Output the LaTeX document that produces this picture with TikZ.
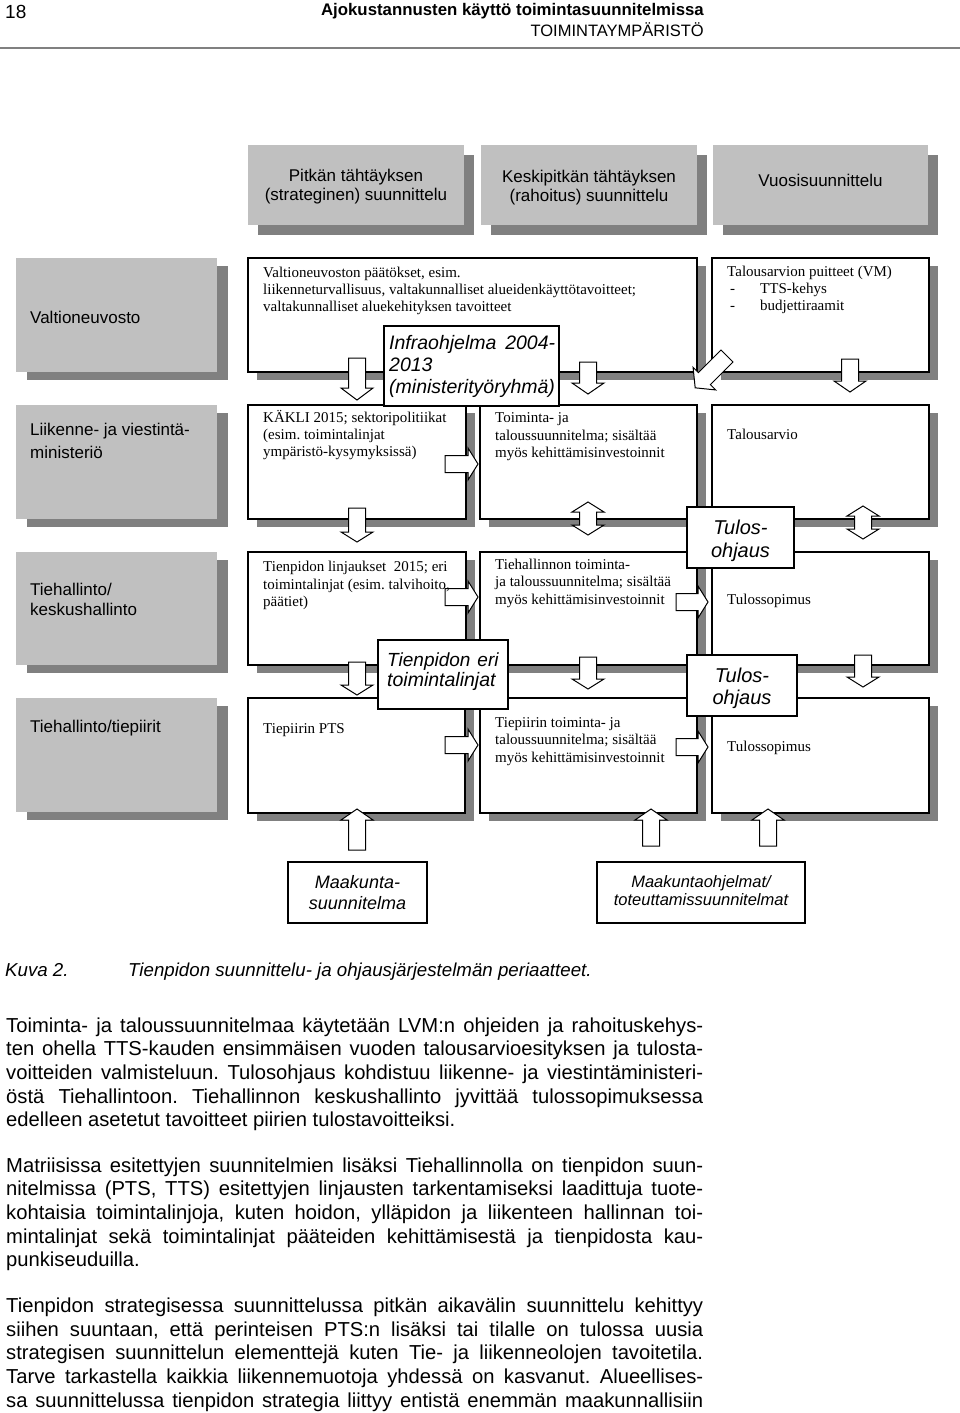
\documentclass[tikz,border=0pt]{standalone}
\usepackage{fontspec}
\setmainfont{Liberation Serif}
\setsansfont{Liberation Sans}
\usetikzlibrary{shadows}
\definecolor{lg}{HTML}{C0C0C0}
\definecolor{dg}{HTML}{808080}
\frenchspacing
\newcommand{\fs}[2]{\fontsize{#1}{#2}\selectfont}
\newcommand{\bodyf}{\sffamily\fs{20.2}{24}\frenchspacing}
\newcommand{\boxf}{\rmfamily\fs{15}{17}}
\newcommand{\grayf}{\sffamily\fs{17}{20}}
\newcounter{txc}
\newcommand{\txl}[4]{\stepcounter{txc}\node[anchor=base west, inner sep=0pt, font=#3] (t\arabic{txc}) at (#1,#2) {#4};}
\newcommand{\txm}[4]{\stepcounter{txc}\node[anchor=base, inner sep=0pt, font=#3] (t\arabic{txc}) at (#1,#2) {#4};}
\newcommand{\txr}[4]{\stepcounter{txc}\node[anchor=base east, inner sep=0pt, font=#3] (t\arabic{txc}) at (#1,#2) {#4};}
\newcommand{\jl}[2]{\stepcounter{txc}\node[anchor=base west, inner sep=0pt, font=\bodyf] (t\arabic{txc}) at (6,#1) {\makebox[697pt][s]{#2}};}
\newcommand{\barr}[5]{\begin{scope}[shift={(#1,#2)},rotate=#3]
\draw[arr] (0,-8.5) -- ({#4-#5},-8.5) -- ({#4-#5},-16) -- (#4,0) -- ({#4-#5},16) -- ({#4-#5},8.5) -- (0,8.5) -- cycle;
\end{scope}}
\newcommand{\darr}[5]{\begin{scope}[shift={(#1,#2)},rotate=#3]
\draw[arr] (0,0) -- (#5,-16) -- (#5,-8.5) -- ({#4-#5},-8.5) -- ({#4-#5},-16) -- (#4,0) -- ({#4-#5},16) -- ({#4-#5},8.5) -- (#5,8.5) -- (#5,16) -- cycle;
\end{scope}}
\begin{document}
\begin{tikzpicture}[x=1pt,y=-1pt,
  gbox/.style={fill=lg, draw=none, inner sep=0pt, outer sep=0pt, anchor=north west, drop shadow={shadow xshift=11pt, shadow yshift=-8pt, fill=dg, opacity=1}},
  hbox/.style={fill=lg, draw=none, inner sep=0pt, outer sep=0pt, anchor=north west, drop shadow={shadow xshift=10pt, shadow yshift=-10pt, fill=dg, opacity=1}},
  wbox/.style={fill=white, draw=black, line width=1.1pt, inner sep=0pt, outer sep=0pt, anchor=north west, drop shadow={shadow xshift=9pt, shadow yshift=-8pt, fill=dg, opacity=1}},
  obox/.style={fill=white, draw=black, line width=1.1pt, inner sep=0pt, outer sep=0pt, anchor=north west},
  arr/.style={draw=black, fill=white, line width=1pt, line join=miter},
]
\useasboundingbox[fill=white] (0,0) rectangle (960,1413);

% page header
\txl{5}{19}{\sffamily\fs{19}{22}}{18}
\txr{704}{16}{\sffamily\bfseries\fs{16.8}{19}}{Ajokustannusten käyttö toimintasuunnitelmissa}
\txr{704}{37}{\sffamily\fs{16.5}{19}}{TOIMINTAYMPÄRISTÖ}
\coordinate (rl) at (0,48);
\coordinate (rr) at (960,48);
\draw[dg, line width=1.5pt] (rl) -- (rr);

% column headers
\node[hbox, minimum width=216pt, minimum height=80pt] (h1) at (248,145) {};
\node[hbox, minimum width=216pt, minimum height=80pt] (h2) at (481,145) {};
\node[hbox, minimum width=215pt, minimum height=80pt] (h3) at (713,145) {};

% row headers
\node[gbox, minimum width=201pt, minimum height=114pt] (r1) at (16,258) {};
\node[gbox, minimum width=201pt, minimum height=114pt] (r2) at (16,405) {};
\node[gbox, minimum width=201pt, minimum height=113pt] (r3) at (16,552) {};
\node[gbox, minimum width=201pt, minimum height=114pt] (r4) at (16,698) {};

% matrix cells
\node[wbox, minimum width=449pt, minimum height=114pt] (vnp) at (248,258) {};
\node[wbox, minimum width=217pt, minimum height=114pt] (tap) at (712,258) {};
\node[wbox, minimum width=218pt, minimum height=114pt] (kakli) at (248,405) {};
\node[wbox, minimum width=217pt, minimum height=114pt] (tts) at (480,405) {};
\node[wbox, minimum width=217pt, minimum height=114pt] (ta) at (712,405) {};
\node[wbox, minimum width=218pt, minimum height=113pt] (tlin) at (248,552) {};
\node[wbox, minimum width=217pt, minimum height=113pt] (thts) at (480,552) {};
\node[wbox, minimum width=217pt, minimum height=113pt] (ts1) at (712,552) {};
\node[wbox, minimum width=217pt, minimum height=115pt] (pts) at (248,698) {};
\node[wbox, minimum width=217pt, minimum height=115pt] (tpts) at (480,698) {};
\node[wbox, minimum width=217pt, minimum height=115pt] (ts2) at (712,698) {};

% overlay boxes
\node[obox, minimum width=175pt, minimum height=80pt] (infra) at (384,326) {};
\node[obox, minimum width=107pt, minimum height=61pt] (to1) at (687,507) {};
\node[obox, minimum width=130pt, minimum height=69pt] (eri) at (378,640) {};
\node[obox, minimum width=110pt, minimum height=61pt] (to2) at (687,655) {};
\node[obox, minimum width=139pt, minimum height=61pt] (mks) at (288,862) {};
\node[obox, minimum width=208pt, minimum height=61pt] (mko) at (597,862) {};

% block arrows
\barr{357}{358}{-90}{42}{12}
\barr{588}{362}{-90}{32}{11}
\barr{850}{359}{-90}{33}{11}
\barr{727}{356}{-135}{45}{13}
\barr{357}{508}{-90}{34}{10}
\barr{357}{662}{-90}{33}{10}
\barr{588}{657}{-90}{32}{10}
\barr{863}{655}{-90}{32}{10}
\darr{588}{502}{-90}{33}{10}
\darr{863}{506}{-90}{33}{10}
\barr{445}{464}{0}{33}{10}
\barr{445}{597}{0}{33}{10}
\barr{445}{745}{0}{33}{10}
\barr{676}{602}{0}{32}{10}
\barr{676}{747}{0}{32}{10}
\barr{357}{850}{90}{41}{11}
\barr{651}{846}{90}{37}{11}
\barr{768}{846}{90}{37}{11}

% header texts
\txm{356}{181.5}{\grayf}{Pitkän tähtäyksen}
\txm{356}{200.5}{\grayf}{(strateginen) suunnittelu}
\txm{589}{182.5}{\grayf}{Keskipitkän tähtäyksen}
\txm{589}{201.5}{\grayf}{(rahoitus) suunnittelu}
\txm{820.5}{186.5}{\grayf}{Vuosisuunnittelu}

% row header texts
\txl{30}{323.5}{\grayf}{Valtioneuvosto}
\txl{30}{435.5}{\grayf}{Liikenne- ja viestintä-}
\txl{30}{458}{\grayf}{ministeriö}
\txl{30}{595.5}{\grayf}{Tiehallinto/}
\txl{30}{615.5}{\grayf}{keskushallinto}
\txl{30}{732.5}{\grayf}{Tiehallinto/tiepiirit}

% cell texts
\txl{263}{277.5}{\boxf}{Valtioneuvoston päätökset, esim.}
\txl{263}{294.5}{\boxf}{liikenneturvallisuus, valtakunnalliset alueidenkäyttötavoitteet;}
\txl{263}{311.5}{\boxf}{valtakunnalliset aluekehityksen tavoitteet}
\txl{727}{276.5}{\boxf}{Talousarvion puitteet (VM)}
\txl{730}{293.5}{\boxf}{-}
\txl{760}{293.5}{\boxf}{TTS-kehys}
\txl{730}{310.5}{\boxf}{-}
\txl{760}{310.5}{\boxf}{budjettiraamit}
\txl{263}{422.5}{\boxf}{KÄKLI 2015; sektoripolitiikat}
\txl{263}{439.5}{\boxf}{(esim. toimintalinjat}
\txl{263}{456.5}{\boxf}{ympäristö-kysymyksissä)}
\txl{495}{422.5}{\boxf}{Toiminta- ja}
\txl{495}{440}{\boxf}{taloussuunnitelma; sisältää}
\txl{495}{457.5}{\boxf}{myös kehittämisinvestoinnit}
\txl{727}{439.5}{\boxf}{Talousarvio}
\txl{263}{571.5}{\boxf}{Tienpidon linjaukset \ 2015; eri}
\txl{263}{589}{\boxf}{toimintalinjat (esim. talvihoito,}
\txl{263}{606.5}{\boxf}{päätiet)}
\txl{495}{569.5}{\boxf}{Tiehallinnon toiminta-}
\txl{495}{586.5}{\boxf}{ja taloussuunnitelma; sisältää}
\txl{495}{604.5}{\boxf}{myös kehittämisinvestoinnit}
\txl{727}{604.5}{\boxf}{Tulossopimus}
\txl{263}{733.5}{\boxf}{Tiepiirin PTS}
\txl{495}{727.5}{\boxf}{Tiepiirin toiminta- ja}
\txl{495}{744.5}{\boxf}{taloussuunnitelma; sisältää}
\txl{495}{762.5}{\boxf}{myös kehittämisinvestoinnit}
\txl{727}{751.5}{\boxf}{Tulossopimus}

% overlay texts
\txl{389}{349.5}{\sffamily\itshape\fs{19.5}{22}}{\makebox[166pt][s]{Infraohjelma 2004-}}
\txl{389}{371.5}{\sffamily\itshape\fs{19.5}{22}}{2013}
\txl{389}{393.5}{\sffamily\itshape\fs{19.5}{22}}{(ministerityöryhmä)}
\txm{740.5}{534}{\sffamily\itshape\fs{20}{23}}{Tulos-}
\txm{740.5}{557}{\sffamily\itshape\fs{20}{23}}{ohjaus}
\txm{742}{682}{\sffamily\itshape\fs{20}{23}}{Tulos-}
\txm{742}{704}{\sffamily\itshape\fs{20}{23}}{ohjaus}
\txl{387}{666.5}{\sffamily\itshape\fs{19}{22}}{\makebox[111pt][s]{Tienpidon\ \ eri}}
\txl{387}{686.5}{\sffamily\itshape\fs{19.5}{22}}{toimintalinjat}
\txm{357.5}{888}{\sffamily\itshape\fs{18}{21}}{Maakunta-}
\txm{357.5}{909}{\sffamily\itshape\fs{18}{21}}{suunnitelma}
\txm{701}{887}{\sffamily\itshape\fs{16.5}{19}}{Maakuntaohjelmat/}
\txm{701}{905}{\sffamily\itshape\fs{16.5}{19}}{toteuttamissuunnitelmat}

% caption
\txl{5}{976.5}{\sffamily\itshape\fs{18.7}{22}}{Kuva 2.}
\txl{128}{976.5}{\sffamily\itshape\fs{18.7}{22}}{Tienpidon suunnittelu- ja ohjausjärjestelmän periaatteet.}

% body text
\jl{1032}{Toiminta- ja taloussuunnitelmaa käytetään LVM:n ohjeiden ja rahoituskehys-}
\jl{1055.7}{ten ohella TTS-kauden ensimmäisen vuoden talousarvioesityksen ja tulosta-}
\jl{1079.4}{voitteiden valmisteluun. Tulosohjaus kohdistuu liikenne- ja viestintäministeri-}
\jl{1103.1}{östä Tiehallintoon. Tiehallinnon keskushallinto jyvittää tulossopimuksessa}
\txl{6}{1126.8}{\bodyf}{edelleen asetetut tavoitteet piirien tulostavoitteiksi.}
\jl{1172}{Matriisissa esitettyjen suunnitelmien lisäksi Tiehallinnolla on tienpidon suun-}
\jl{1195.7}{nitelmissa (PTS, TTS) esitettyjen linjausten tarkentamiseksi laadittuja tuote-}
\jl{1219.4}{kohtaisia toimintalinjoja, kuten hoidon, ylläpidon ja liikenteen hallinnan toi-}
\jl{1243.1}{mintalinjat sekä toimintalinjat pääteiden kehittämisestä ja tienpidosta kau-}
\txl{6}{1266.8}{\bodyf}{punkiseuduilla.}
\jl{1312.5}{Tienpidon strategisessa suunnittelussa pitkän aikavälin suunnittelu kehittyy}
\jl{1336.2}{siihen suuntaan, että perinteisen PTS:n lisäksi tai tilalle on tulossa uusia}
\jl{1359.9}{strategisen suunnittelun elementtejä kuten Tie- ja liikenneolojen tavoitetila.}
\jl{1383.6}{Tarve tarkastella kaikkia liikennemuotoja yhdessä on kasvanut. Alueellises-}
\jl{1407.3}{sa suunnittelussa tienpidon strategia liittyy entistä enemmän maakunnallisiin}
\end{tikzpicture}
\end{document}
